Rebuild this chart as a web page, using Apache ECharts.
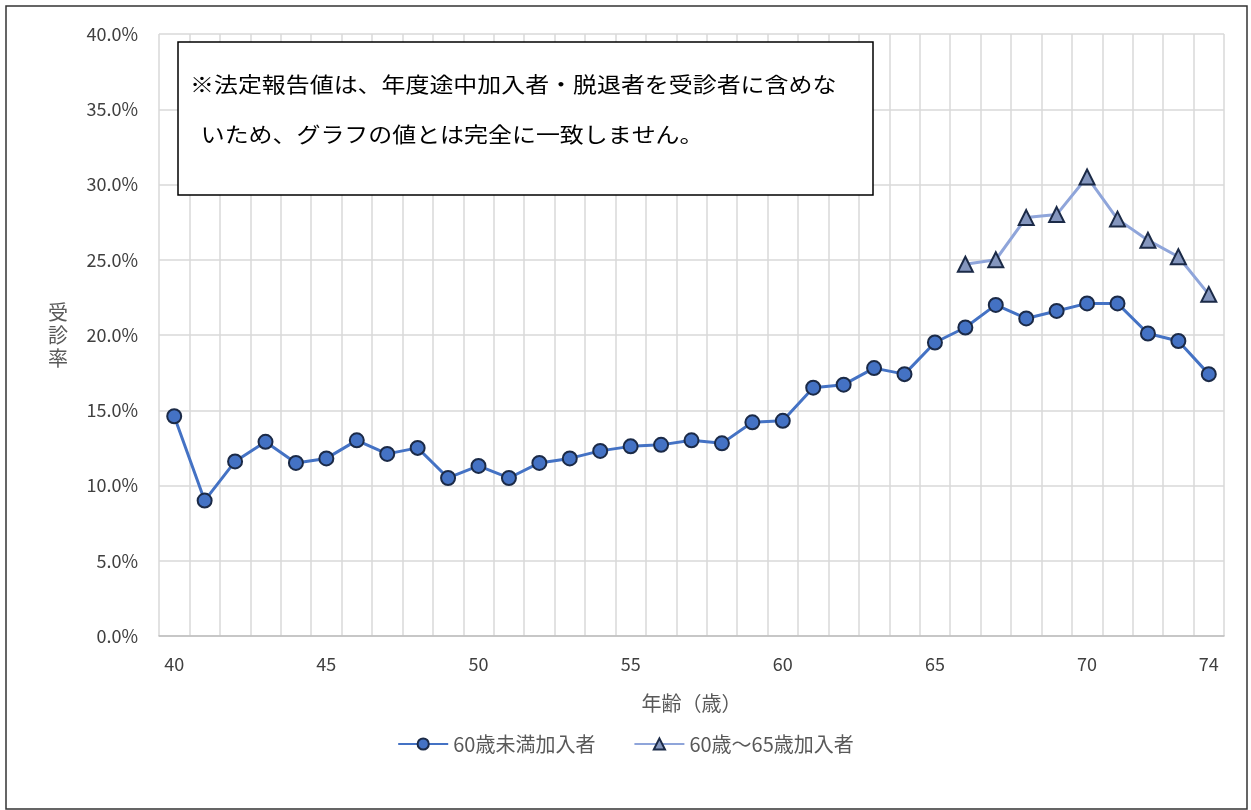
<!DOCTYPE html>
<html>
<head>
<meta charset="utf-8">
<script src="https://cdn.jsdelivr.net/npm/echarts@6/dist/echarts.min.js"></script>
<style>
  html, body { margin: 0; padding: 0; background: #fff; }
  #chart { width: 1251px; height: 810px; }
</style>
</head>
<body>
<div id="chart"></div>
<script>
(function() {
    // 年齢（歳）
    var ages = [];
    for (var a = 40; a <= 74; a++) ages.push(String(a));

    // 60歳未満加入者 受診率(%)
    var under60 = [
        14.6, 9.0, 11.6, 12.9, 11.5, 11.8, 13.0, 12.1, 12.5, 10.5,
        11.3, 10.5, 11.5, 11.8, 12.3, 12.6, 12.7, 13.0, 12.8, 14.2,
        14.3, 16.5, 16.7, 17.8, 17.4, 19.5, 20.5, 22.0, 21.1, 21.6,
        22.1, 22.1, 20.1, 19.6, 17.4
    ];

    // 60歳～65歳加入者 受診率(%) (66歳から)
    var from60to65 = [
        null, null, null, null, null, null, null, null, null, null,
        null, null, null, null, null, null, null, null, null, null,
        null, null, null, null, null, null, 24.7, 25.0, 27.8, 28.0,
        30.5, 27.7, 26.3, 25.2, 22.7
    ];

    var shownLabels = ['40', '45', '50', '55', '60', '65', '70', '74'];
    var noteLines = [
        '※法定報告値は、年度途中加入者・脱退者を受診者に含めな',
        '  いため、グラフの値とは完全に一致しません。'
    ];

    var myChart = echarts.init(document.getElementById('chart'));
    var grey = '#595959';

    var option = {
        animation: false,
        backgroundColor: '#ffffff',
        textStyle: { fontFamily: 'Noto Sans CJK JP, Noto Sans, sans-serif' },
        grid: { left: 159, right: 27, top: 34, bottom: 174 },
        legend: {
            bottom: 51,
            left: 'center',
            itemWidth: 50,
            itemHeight: 14,
            itemGap: 38,
            textStyle: { color: grey, fontSize: 20 },
            data: ['60歳未満加入者', '60歳～65歳加入者']
        },
        xAxis: {
            type: 'category',
            boundaryGap: true,
            data: ages,
            name: '年齢（歳）',
            nameLocation: 'middle',
            nameGap: 57,
            nameTextStyle: { color: grey, fontSize: 20 },
            axisLine: { lineStyle: { color: '#BFBFBF', width: 1.5 } },
            axisTick: { show: false, interval: 0 },
            axisLabel: {
                color: '#404040',
                fontSize: 18,
                margin: 19,
                interval: function(i, v) { return shownLabels.indexOf(v) >= 0; }
            },
            splitLine: { show: true, interval: 0, lineStyle: { color: '#D9D9D9', width: 1.5 } }
        },
        yAxis: {
            type: 'value',
            min: 0,
            max: 40,
            interval: 5,
            name: '受\n診\n率',
            nameLocation: 'middle',
            nameRotate: 0,
            nameGap: 91,
            nameTextStyle: { color: grey, fontSize: 20, lineHeight: 23 },
            axisLine: { show: false },
            axisTick: { show: false },
            axisLabel: {
                color: '#404040',
                fontSize: 18,
                margin: 21,
                formatter: function(v) { return v.toFixed(1) + '%'; }
            },
            splitLine: { lineStyle: { color: '#D9D9D9', width: 1.5 } }
        },
        series: [{
            name: '60歳未満加入者',
            type: 'line',
            data: under60,
            symbol: 'circle',
            symbolSize: 14,
            lineStyle: { color: '#4472C4', width: 3 },
            itemStyle: { color: '#4472C4', borderColor: '#1B2A47', borderWidth: 2 },
            z: 3
        }, {
            name: '60歳～65歳加入者',
            type: 'line',
            data: from60to65,
            symbol: 'triangle',
            symbolSize: 15,
            lineStyle: { color: '#8FA5DA', width: 3 },
            itemStyle: { color: '#8496BE', borderColor: '#1B2A47', borderWidth: 2 },
            z: 4
        }],
        graphic: [{
            type: 'rect',
            z: 100,
            shape: { x: 178, y: 42, width: 695, height: 153 },
            style: { fill: '#ffffff', stroke: '#000000', lineWidth: 1.5 }
        }, {
            type: 'text',
            z: 101,
            x: 190,
            y: 84,
            scaleX: 1.14,
            style: {
                text: noteLines[0],
                fill: '#000000',
                font: '21px "Noto Sans CJK JP"',
                verticalAlign: 'middle'
            }
        }, {
            type: 'text',
            z: 101,
            x: 190,
            y: 134,
            scaleX: 1.14,
            style: {
                text: noteLines[1],
                fill: '#000000',
                font: '21px "Noto Sans CJK JP"',
                verticalAlign: 'middle'
            }
        }, {
            type: 'rect',
            z: 100,
            shape: { x: 6, y: 6, width: 1241, height: 803 },
            style: { fill: 'none', stroke: '#333333', lineWidth: 1.5 }
        }]
    };

    myChart.setOption(option);

    window.onresize = function() {
        myChart.resize();
    };
})();
</script>
</body>
</html>
